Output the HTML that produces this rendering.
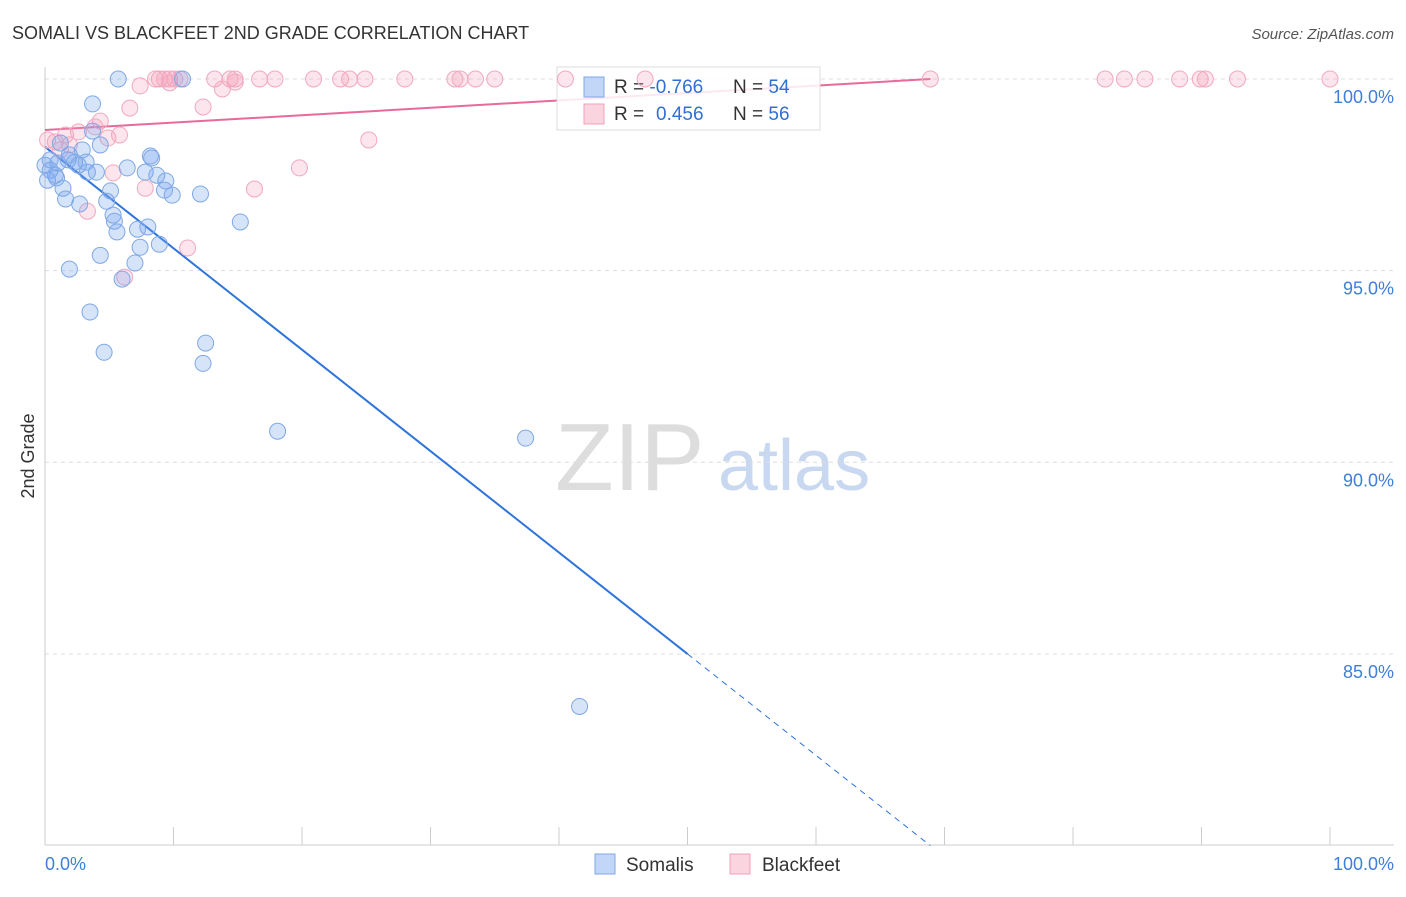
<!DOCTYPE html>
<html><head><meta charset="utf-8"><style>
body{margin:0;background:#fff;font-family:"Liberation Sans",sans-serif;}
svg text{font-family:"Liberation Sans",sans-serif;}
</style></head><body>
<svg id="chart" width="1406" height="892" xmlns="http://www.w3.org/2000/svg">
<text x="12" y="39" font-size="18" fill="#333">SOMALI VS BLACKFEET 2ND GRADE CORRELATION CHART</text>
<text x="1394" y="39" font-size="15" fill="#555" font-style="italic" text-anchor="end">Source: ZipAtlas.com</text>
<text x="34" y="456" font-size="18" fill="#333" text-anchor="middle" transform="rotate(-90 34 456)">2nd Grade</text>
<g>
<text x="555" y="490" font-size="96" fill="#ddd" font-family="Liberation Serif, serif">ZIP</text>
<text x="718" y="490" font-size="72" fill="#c7d8f0">atlas</text>
</g>
<g id="grid"></g><g id="axes"></g><g id="lines"></g>
<g>
<rect x="557" y="67" width="263" height="63" fill="rgba(255,255,255,0.85)" stroke="#ddd"/>
<rect x="584" y="77" width="20" height="20" fill="rgba(120,165,240,0.45)" stroke="#7fa8e6"/>
<rect x="584" y="104" width="20" height="20" fill="rgba(245,160,185,0.45)" stroke="#f0a0b8"/>
<text x="614" y="93" font-size="19" fill="#333">R = <tspan fill="#2f6fd6">-0.766</tspan><tspan x="733">N = </tspan><tspan fill="#2f6fd6">54</tspan></text>
<text x="614" y="120" font-size="19" fill="#333">R = <tspan fill="#2f6fd6" x="656">0.456</tspan><tspan x="733">N = </tspan><tspan fill="#2f6fd6">56</tspan></text>
</g>
<g id="pts"></g>
<g>
<rect x="595" y="854" width="20" height="20" fill="rgba(120,165,240,0.45)" stroke="#7fa8e6"/>
<text x="626" y="871" font-size="19" fill="#333">Somalis</text>
<rect x="730" y="854" width="20" height="20" fill="rgba(245,160,185,0.45)" stroke="#f0a0b8"/>
<text x="762" y="871" font-size="19" fill="#333">Blackfeet</text>
</g>
<text x="45" y="870" font-size="18" fill="#3d7fd9">0.0%</text>
<text x="1394" y="870" font-size="18" fill="#3d7fd9" text-anchor="end">100.0%</text>
</svg>
<script>
const yTicks=[100,95,90,85];
const yTickLabels=["100.0%","95.0%","90.0%","85.0%"];
const xTicks=[0,10,20,30,40,50,60,70,80,90,100];
const somaliX=[5.7,10.7,3.7,3.7,1.2,4.3,2.9,8.2,8.3,0.4,1.8,2.3,3.2,1.0,6.4,7.8,8.7,3.3,4.0,0.2,0.9,9.4,1.4,9.3,5.1,9.9,12.1,1.6,4.8,2.7,5.3,5.4,15.2,8.0,7.2,5.6,8.9,7.4,4.3,7.0,1.9,6.0,3.5,12.5,4.6,12.3,18.1,37.4,41.6,0.4,0.8,1.9,2.6,0.0];
const somaliY=[100,100,99.35,98.64,98.33,98.28,98.15,97.99,97.94,97.89,97.89,97.83,97.83,97.81,97.68,97.57,97.49,97.57,97.57,97.36,97.42,97.34,97.15,97.10,97.08,96.97,97.00,96.87,96.81,96.74,96.45,96.29,96.27,96.14,96.08,96.01,95.69,95.61,95.40,95.20,95.04,94.78,93.92,93.11,92.87,92.58,90.81,90.63,83.63,97.62,97.49,98.02,97.75,97.75];
const blackX=[8.6,8.9,9.3,9.7,10.1,10.5,13.2,14.4,14.8,16.7,17.9,20.9,23.0,23.7,24.9,28.0,31.9,32.3,33.5,35.0,40.5,46.7,68.9,82.5,84.0,85.6,88.3,89.9,90.3,92.8,100,7.4,13.8,6.6,12.3,4.3,3.9,2.6,5.8,4.9,0.8,0.2,1.9,25.2,19.8,5.3,7.8,16.3,3.3,11.1,6.2,1.2,9.7,14.8,1.6];
const blackY=[100,100,100,100,100,100,100,100,100,100,100,100,100,100,100,100,100,100,100,100,100,100,100,100,100,100,100,100,100,100,100,99.82,99.74,99.24,99.27,98.90,98.75,98.62,98.54,98.46,98.36,98.41,98.28,98.41,97.68,97.55,97.15,97.13,96.55,95.59,94.83,98.15,99.9,99.92,98.54];
const blueLine=[98.23,-0.2646];
const pinkLine=[98.67,0.0193];
const NS="http://www.w3.org/2000/svg";
const X=v=>45+v*12.85, Y=v=>79+(100-v)*38.33;
function mk(t,a,p){const e=document.createElementNS(NS,t);for(const k in a)e.setAttribute(k,a[k]);p.appendChild(e);return e;}
const grid=document.getElementById('grid'),axes=document.getElementById('axes'),pts=document.getElementById('pts'),lines=document.getElementById('lines');
yTicks.forEach((t,i)=>{
 const l=mk('line',{x1:45,x2:1394,y1:Y(t),y2:Y(t),stroke:'#ddd','stroke-dasharray':'4 4'},grid);
 
 
 const tx=mk('text',{x:1394,y:Y(t)+24,'font-size':18,fill:'#3d7fd9','text-anchor':'end'},grid);
 tx.textContent=yTickLabels[i];
 
 
});
const ax=mk('line',{x1:45,x2:45,y1:67,y2:845,stroke:'#ccc'},axes);


const bx=mk('line',{x1:45,x2:1394,y1:845,y2:845,stroke:'#ccc'},axes);


xTicks.forEach(t=>{
 const l=mk('line',{x1:X(t),x2:X(t),y1:827,y2:845,stroke:'#ccc'},axes);
 
 
});
blackX.forEach((x,i)=>{
 const c=mk('circle',{cx:X(x),cy:Y(blackY[i]),r:8,fill:'rgba(245,160,185,0.28)',stroke:'#f2a8be','stroke-width':1},pts);
 
 
});
somaliX.forEach((x,i)=>{
 const c=mk('circle',{cx:X(x),cy:Y(somaliY[i]),r:8,fill:'rgba(120,165,240,0.3)',stroke:'#7fa8e6','stroke-width':1},pts);
 
 
});
const bEnd=(80-blueLine[0])/blueLine[1];
const b1=mk('line',{x1:X(0),y1:Y(blueLine[0]),x2:X(50),y2:Y(blueLine[0]+blueLine[1]*50),stroke:'#2f74d9','stroke-width':2},lines);


const b2=mk('line',{x1:X(50),y1:Y(blueLine[0]+blueLine[1]*50),x2:X(bEnd),y2:Y(80),stroke:'#2f74d9','stroke-width':1,'stroke-dasharray':'6 5'},lines);


const p1=mk('line',{x1:X(0),y1:Y(pinkLine[0]),x2:X(68.9),y2:Y(pinkLine[0]+pinkLine[1]*68.9),stroke:'#e8699a','stroke-width':2},lines);


</script>
</body></html>
